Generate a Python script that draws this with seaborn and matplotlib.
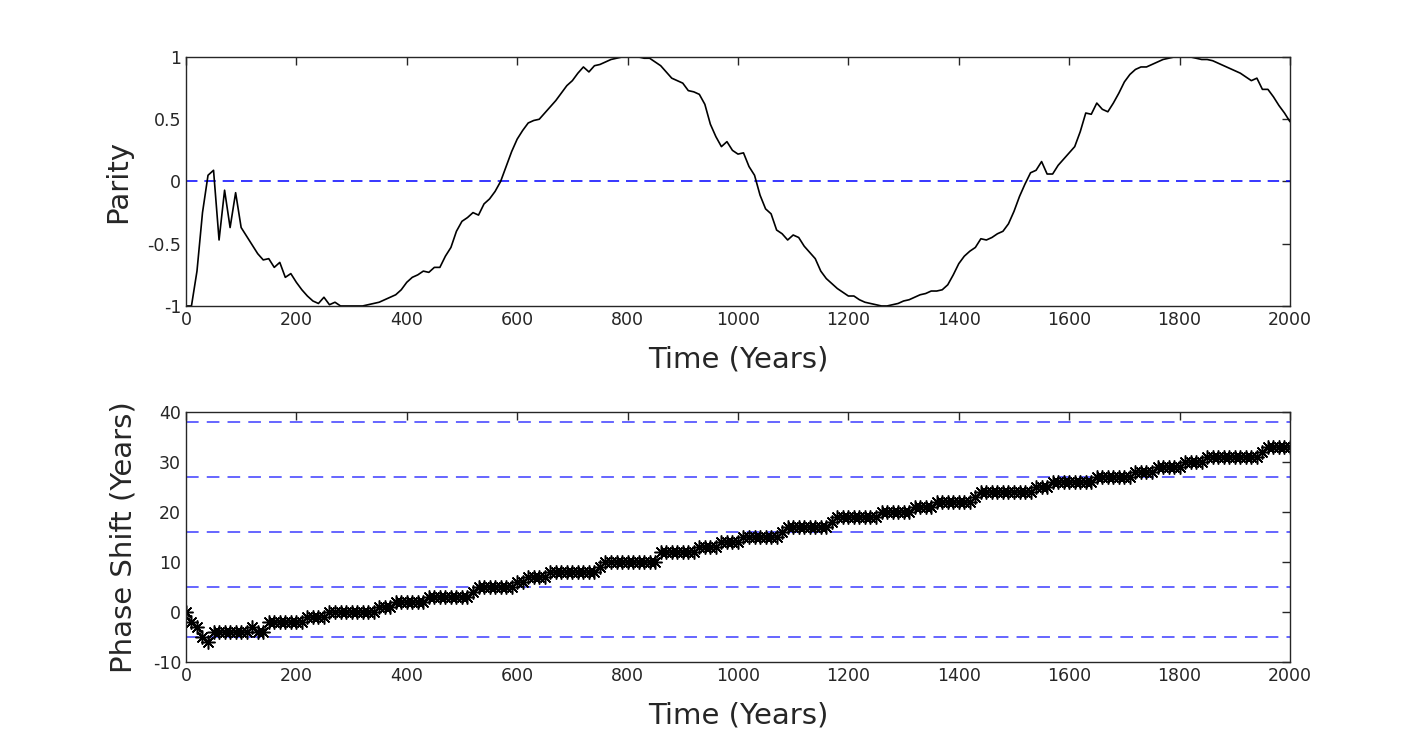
import numpy as np
import pandas as pd
import seaborn as sns
import matplotlib.pyplot as plt

sns.set_style('white')
plt.rcParams['font.family'] = ['DejaVu Sans']
plt.rcParams['axes.unicode_minus'] = False
plt.rcParams['xtick.direction'] = 'in'
plt.rcParams['ytick.direction'] = 'in'

# time axis, every 10 years
years = list(range(0, 2001, 10))

parity = [
    -1.00, -1.00, -0.72, -0.25, 0.05, 0.09, -0.47, -0.07, -0.37, -0.09,
    -0.37, -0.44, -0.51, -0.58, -0.63, -0.62, -0.69, -0.65, -0.77, -0.74,
    -0.81, -0.87, -0.92, -0.96, -0.98, -0.93, -0.99, -0.97, -1.00, -1.00,
    -1.00, -1.00, -1.00, -0.99, -0.98, -0.97, -0.95, -0.93, -0.91, -0.87,
    -0.81, -0.77, -0.75, -0.72, -0.73, -0.69, -0.69, -0.60, -0.53, -0.40,
    -0.32, -0.29, -0.25, -0.27, -0.18, -0.14, -0.08, 0.00, 0.12, 0.24,
    0.34, 0.41, 0.47, 0.49, 0.50, 0.55, 0.60, 0.65, 0.71, 0.77,
    0.81, 0.87, 0.92, 0.88, 0.93, 0.94, 0.96, 0.98, 0.99, 1.00,
    1.00, 1.00, 1.00, 0.99, 0.99, 0.96, 0.93, 0.88, 0.83, 0.81,
    0.79, 0.73, 0.72, 0.70, 0.62, 0.46, 0.36, 0.28, 0.32, 0.25,
    0.22, 0.23, 0.12, 0.05, -0.11, -0.22, -0.26, -0.39, -0.42, -0.47,
    -0.43, -0.45, -0.52, -0.57, -0.62, -0.72, -0.78, -0.82, -0.86, -0.89,
    -0.92, -0.92, -0.95, -0.97, -0.98, -0.99, -1.00, -1.00, -0.99, -0.98,
    -0.96, -0.95, -0.93, -0.91, -0.90, -0.88, -0.88, -0.87, -0.83, -0.75,
    -0.66, -0.60, -0.56, -0.53, -0.46, -0.47, -0.45, -0.42, -0.40, -0.34,
    -0.24, -0.12, -0.02, 0.07, 0.09, 0.16, 0.06, 0.06, 0.13, 0.18,
    0.23, 0.28, 0.40, 0.55, 0.54, 0.63, 0.58, 0.56, 0.63, 0.71,
    0.80, 0.86, 0.90, 0.92, 0.92, 0.94, 0.96, 0.98, 0.99, 1.00,
    1.00, 1.00, 1.00, 0.99, 0.98, 0.98, 0.97, 0.95, 0.93, 0.91,
    0.89, 0.87, 0.84, 0.81, 0.83, 0.74, 0.74, 0.68, 0.61, 0.55,
    0.48,
]

phase_shift = [
    0, -2, -3, -5, -6, -4, -4, -4, -4, -4,
    -4, -4, -3, -4, -4, -2, -2, -2, -2, -2,
    -2, -2, -1, -1, -1, -1, 0, 0, 0, 0,
    0, 0, 0, 0, 0, 1, 1, 1, 2, 2,
    2, 2, 2, 2, 3, 3, 3, 3, 3, 3,
    3, 3, 4, 5, 5, 5, 5, 5, 5, 5,
    6, 6, 7, 7, 7, 7, 8, 8, 8, 8,
    8, 8, 8, 8, 8, 9, 10, 10, 10, 10,
    10, 10, 10, 10, 10, 10, 12, 12, 12, 12,
    12, 12, 12, 13, 13, 13, 13, 14, 14, 14,
    14, 15, 15, 15, 15, 15, 15, 15, 16, 17,
    17, 17, 17, 17, 17, 17, 17, 18, 19, 19,
    19, 19, 19, 19, 19, 19, 20, 20, 20, 20,
    20, 20, 21, 21, 21, 21, 22, 22, 22, 22,
    22, 22, 22, 23, 24, 24, 24, 24, 24, 24,
    24, 24, 24, 24, 25, 25, 25, 26, 26, 26,
    26, 26, 26, 26, 26, 27, 27, 27, 27, 27,
    27, 27, 28, 28, 28, 28, 29, 29, 29, 29,
    29, 30, 30, 30, 30, 31, 31, 31, 31, 31,
    31, 31, 31, 31, 31, 32, 33, 33, 33, 33,
    33,
]

shift_levels = [-5, 5, 16, 27, 38]

df = pd.DataFrame({'Time': years, 'Parity': parity, 'Shift': phase_shift})

fig = plt.figure(figsize=(14.27, 7.49), dpi=100)
ax1 = fig.add_axes([0.1303, 0.5915, 0.7737, 0.3324])
ax2 = fig.add_axes([0.1303, 0.1162, 0.7737, 0.3338])

edge = '#262626'

# top panel
ax1.axhline(0, color='#0000ff', lw=1.1, dashes=(7.5, 4.5))
sns.lineplot(data=df, x='Time', y='Parity', ax=ax1, color='black', lw=1.2)
ax1.set_xlim(0, 2000)
ax1.set_ylim(-1, 1)
ax1.set_yticks([-1, -0.5, 0, 0.5, 1])
ax1.set_yticklabels(['-1', '-0.5', '0', '0.5', '1'])
ax1.set_ylabel('Parity', fontsize=21, color=edge, labelpad=11)

# bottom panel
for lev in shift_levels:
    ax2.axhline(lev, color='#3030ff', lw=1.3, dashes=(7, 4.5), alpha=0.8)
sns.lineplot(data=df, x='Time', y='Shift', ax=ax2, color='black', lw=0.8,
             marker=(8, 2, 0), markersize=10, markeredgewidth=1.1,
             markeredgecolor='black')
ax2.set_xlim(0, 2000)
ax2.set_ylim(-10, 40)
ax2.set_yticks([-10, 0, 10, 20, 30, 40])
ax2.set_yticklabels(['-10', '0', '10', '20', '30', '40'])
ax2.set_ylabel('Phase Shift (Years)', fontsize=21, color=edge, labelpad=11)

for ax in (ax1, ax2):
    ax.set_xticks(range(0, 2001, 200))
    ax.set_xlabel('Time (Years)', fontsize=21, color=edge, labelpad=12)
    ax.tick_params(axis='both', which='both', labelsize=12.5, colors=edge,
                   top=True, right=True, length=6, width=1)
    for s in ax.spines.values():
        s.set_color(edge)
        s.set_linewidth(1)

plt.savefig('out.png', dpi=100)
